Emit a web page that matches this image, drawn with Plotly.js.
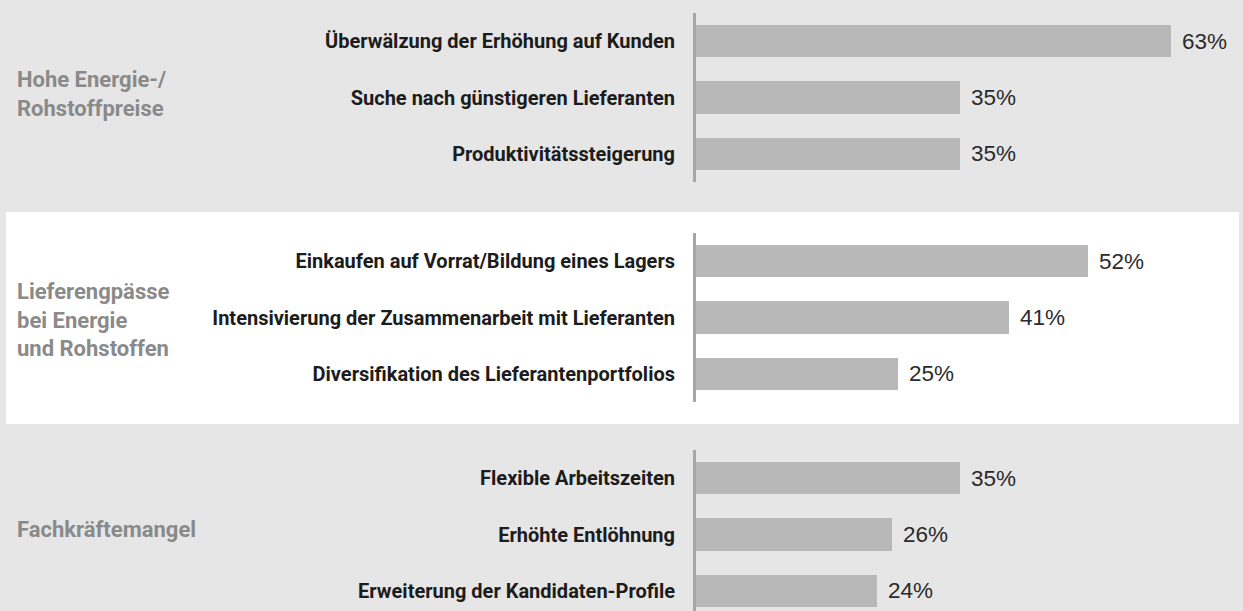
<!DOCTYPE html>
<html><head><meta charset="utf-8">
<script src="https://cdn.plot.ly/plotly-3.0.1.min.js"></script>
<style>html,body{margin:0;padding:0;background:#e6e6e6;}#chart{width:1243px;height:611px;}</style>
</head><body><div id="chart"></div>
<script>
const groupNames = ["Hohe Energie-/<br>Rohstoffpreise", "Lieferengpässe<br>bei Energie<br>und Rohstoffen", "Fachkräftemangel"];
const cats1 = ["Überwälzung der Erhöhung auf Kunden", "Suche nach günstigeren Lieferanten", "Produktivitätssteigerung"];
const vals1 = [63, 35, 35];
const labels1 = ["63%", "35%", "35%"];
const cats2 = ["Einkaufen auf Vorrat/Bildung eines Lagers", "Intensivierung der Zusammenarbeit mit Lieferanten", "Diversifikation des Lieferantenportfolios"];
const vals2 = [52, 41.5, 26.8];
const labels2 = ["52%", "41%", "25%"];
const cats3 = ["Flexible Arbeitszeiten", "Erhöhte Entlöhnung", "Erweiterung der Kandidaten-Profile"];
const vals3 = [35, 26, 24];
const labels3 = ["35%", "26%", "24%"];

const W = 1243, H = 611;
const groups = [
  {cats: cats1, vals: vals1, labels: labels1, top: 13, bottom: 182, xa: 'x', ya: 'y', labelY: 94},
  {cats: cats2, vals: vals2, labels: labels2, top: 233, bottom: 402, xa: 'x2', ya: 'y2', labelY: 320},
  {cats: cats3, vals: vals3, labels: labels3, top: 450, bottom: 611, xa: 'x3', ya: 'y3', labelY: 529}
];
const band = 169 / 3;
const pxPerPct = 7.54;
const x0px = 696;

const data = [];
const annotations = [];
const layout = {
  width: W, height: H,
  margin: {l: 0, r: 0, t: 0, b: 0},
  paper_bgcolor: '#e6e6e6',
  plot_bgcolor: 'rgba(0,0,0,0)',
  showlegend: false,
  bargap: 0,
  shapes: [{
    type: 'rect', xref: 'paper', yref: 'paper', layer: 'below',
    x0: 6 / W, x1: 1239 / W, y0: 1 - 424 / H, y1: 1 - 212 / H,
    fillcolor: '#ffffff', line: {width: 0}
  }],
  annotations: annotations
};

groups.forEach((g, i) => {
  data.push({
    type: 'bar', orientation: 'h',
    x: g.vals, y: g.cats,
    xaxis: g.xa, yaxis: g.ya,
    width: 0.57,
    marker: {color: '#b8b8b8', line: {width: 0}},
    hoverinfo: 'skip'
  });
  g.vals.forEach((v, j) => {
    annotations.push({
      x: v, y: g.cats[j], xref: g.xa, yref: g.ya,
      text: g.labels[j], showarrow: false, xanchor: 'left', yanchor: 'middle',
      xshift: 9,
      font: {family: 'Liberation Sans, Arial, sans-serif', size: 22.5, color: '#2b2b2b'}
    });
  });
  const nUnits = (g.bottom - g.top) / band;
  const xKey = 'xaxis' + (i === 0 ? '' : (i + 1));
  const yKey = 'yaxis' + (i === 0 ? '' : (i + 1));
  layout[xKey] = {
    domain: [x0px / W, 1],
    range: [0, (W - x0px) / pxPerPct],
    anchor: g.ya,
    showgrid: false, zeroline: false, showline: false,
    showticklabels: false, ticks: '', fixedrange: true
  };
  layout[yKey] = {
    domain: [1 - g.bottom / H, 1 - g.top / H],
    range: [-0.5 + nUnits, -0.5],
    anchor: g.xa,
    type: 'category',
    showgrid: false, zeroline: false,
    showline: true, linecolor: '#a6a6a6', linewidth: 3,
    ticks: '', ticklabelstandoff: 14,
    tickfont: {family: 'Roboto, sans-serif', size: 20, weight: 700, color: '#1c1c1c'},
    fixedrange: true
  };
  annotations.push({
    xref: 'paper', yref: 'paper',
    x: 15 / W, y: 1 - g.labelY / H,
    xanchor: 'left', yanchor: 'middle', align: 'left',
    text: groupNames[i], showarrow: false,
    font: {family: 'Roboto, sans-serif', size: 22, weight: 700, color: '#8a8a8a'}
  });
});

Plotly.newPlot('chart', data, layout, {displayModeBar: false, staticPlot: true});
</script>
</body></html>
